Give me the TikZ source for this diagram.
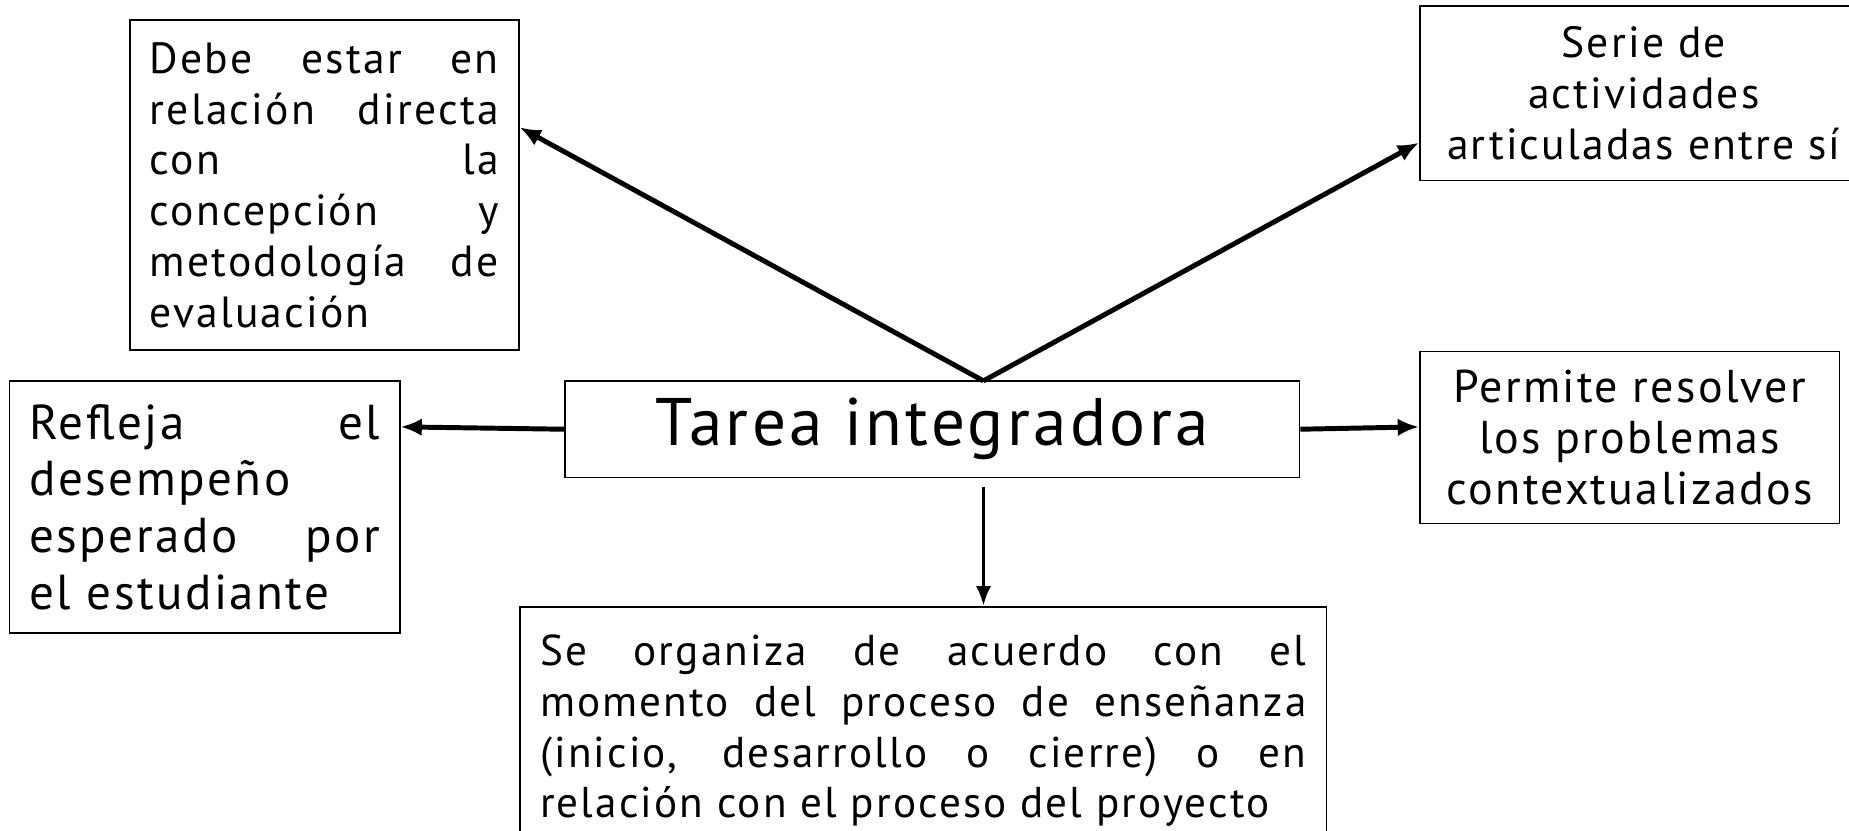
\documentclass[tikz,border=0pt]{standalone}
\usepackage{fontspec}
\setmainfont[LetterSpace=5]{PT Sans}
\usetikzlibrary{arrows.meta}

\tikzset{
  caja/.style={draw, line width=0.7pt, inner xsep=8.5pt, inner ysep=0pt, font=\fontsize{18.5}{21.5}\selectfont},
  flecha/.style={line width=2.1pt, -{Latex[length=9pt,width=7.5pt]}},
  flechafina/.style={line width=1.6pt, -{Latex[length=8.5pt,width=6.5pt]}}
}

\begin{document}
\begin{tikzpicture}[x=0.5pt, y=-0.5pt]
			%%%%% START %%%%%
			
			\useasboundingbox (0, 0) rectangle (1568, 704);
			
			\node[caja, font=\fontsize{28.5}{32}\selectfont, minimum width=311.5pt, minimum height=41pt] (tarea) at (790.5, 364) {Tarea integradora};
			
			\node[caja, text width=148pt, minimum height=140pt, align=justify] (debe) at (275, 157) {Debe estar en\linebreak relación directa\linebreak con la\linebreak concepción y\linebreak metodología de\linebreak evaluación};
			
			\node[caja, minimum width=190pt, minimum height=74pt, align=center] (serie) at (1394, 79) {Serie de\\ actividades\\ articuladas entre sí};
			
			\node[caja, font=\fontsize{20.8}{24}\selectfont, text width=148.5pt, minimum height=107pt, align=justify] (refleja) at (173.5, 430) {Refleja el\linebreak desempeño\linebreak esperado por\linebreak el estudiante};
			
			\node[caja, font=\fontsize{19.5}{21.75}\selectfont, minimum width=178pt, minimum height=73pt, align=center] (permite) at (1382, 371) {Permite resolver\\ los problemas\\ contextualizados};
			
			\node[caja, font=\fontsize{18.3}{21.5}\selectfont, text width=325pt, minimum height=105pt, align=justify, anchor=north] (organiza) at (783, 514) {Se organiza de acuerdo con el\linebreak momento del proceso de enseñanza\linebreak (inicio, desarrollo o cierre) o en\linebreak relación con el proceso del proyecto};
			
			\coordinate (vertice) at (834, 323);
			\coordinate (bajo) at (834, 413);
			
			\draw[flecha] (vertice) -- ([yshift=24.5pt]debe.east);
			\draw[flecha] (vertice) -- ([yshift=-21pt]serie.west);
			\draw[flecha] (tarea.west) -- ([yshift=34pt]refleja.east);
			\draw[flecha] (tarea.east) -- ([yshift=4.5pt]permite.west);
			\draw[flechafina] (bajo) -- (bajo |- organiza.north);
			
			%%%%% END %%%%%
\end{tikzpicture}
\end{document}
